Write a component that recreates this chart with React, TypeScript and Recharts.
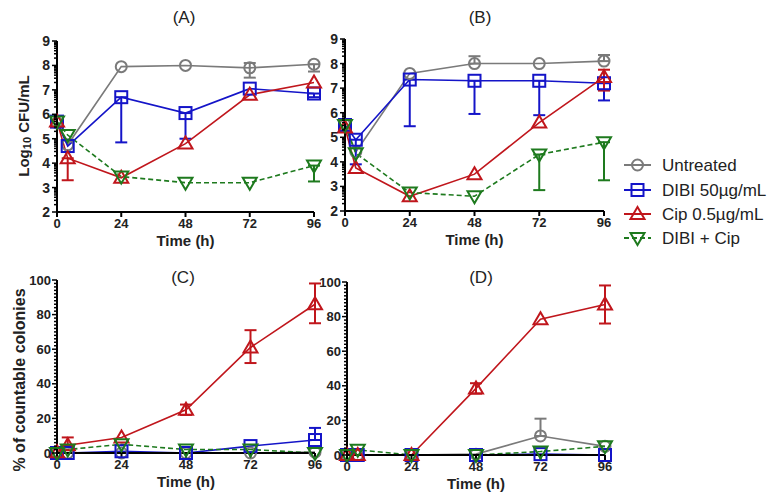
import React from 'react';
import { LineChart, Line, XAxis, YAxis, ErrorBar } from 'recharts';

type Err = [number, number] | null;

const times = [0, 4, 24, 48, 72, 96];
const timeTicks = [0, 24, 48, 72, 96];

// (A) log10 CFU/mL
const aUntreated = [5.65, 4.75, 7.95, 8.0, 7.9, 8.05];
const aUntreatedErr: Err[] = [null, null, null, null, [0.4, 0.2], [0.3, 0]];
const aDibi = [5.7, 4.7, 6.7, 6.05, 7.05, 6.85];
const aDibiErr: Err[] = [null, null, [1.85, 0], [1.05, 0], null, [0.15, 0]];
const aCip = [5.7, 4.2, 3.4, 4.8, 6.8, 7.3];
const aCipErr: Err[] = [null, [0.9, 0], null, null, null, null];
const aCombo = [5.7, 5.15, 3.45, 3.2, 3.2, 3.9];
const aComboErr: Err[] = [null, null, null, null, null, [0.65, 0]];

// (B) log10 CFU/mL
const bUntreated = [5.5, 4.4, 7.6, 8.0, 8.0, 8.1];
const bUntreatedErr: Err[] = [null, null, null, [0, 0.3], null, [0, 0.25]];
const bDibi = [5.5, 4.9, 7.35, 7.3, 7.3, 7.2];
const bDibiErr: Err[] = [null, [1.0, 0], [1.9, 0], [1.35, 0], [1.4, 0], [0.7, 0]];
const bCip = [5.4, 3.75, 2.6, 3.5, 5.6, 7.45];
const bCipErr: Err[] = [null, null, null, null, null, [0.55, 0.3]];
const bCombo = [5.5, 4.35, 2.75, 2.6, 4.3, 4.8];
const bComboErr: Err[] = [null, null, null, null, [1.45, 0], [1.55, 0]];

// (C) % of countable colonies
const cUntreated = [0, 0, 0, 0, 0, 0.5];
const cUntreatedErr: Err[] = [null, null, null, null, null, null];
const cDibi = [0, 0, 1, 0, 4, 7.5];
const cDibiErr: Err[] = [null, null, null, null, null, [0, 7]];
const cCip = [0.5, 4.5, 9, 25, 61, 86];
const cCipErr: Err[] = [null, [0, 4.5], null, [3, 3], [9, 10], [11, 12]];
const cCombo = [0, 2, 5, 2, 2, 0];
const cComboErr: Err[] = [null, null, null, null, null, null];

// (D) % of countable colonies
const dUntreated = [0, 0, 0, 0.5, 11, 5];
const dUntreatedErr: Err[] = [null, null, null, null, [0, 10], null];
const dDibi = [0, 0, 0, 0, 0.5, 0];
const dDibiErr: Err[] = [null, null, null, null, null, null];
const dCip = [0, 0, 0, 38.5, 78.5, 87];
const dCipErr: Err[] = [null, null, null, [3, 3], null, [11, 11]];
const dCombo = [0, 3, 0, 0, 2, 5];
const dComboErr: Err[] = [null, null, null, null, null, null];

const seriesNames = ['Untreated', 'DIBI 50\u00b5g/mL', 'Cip 0.5\u00b5g/mL', 'DIBI + Cip'];

const series = [
  { key: 'u', color: '#7a7a7a', shape: 'circle', dash: undefined },
  { key: 'd', color: '#1414c8', shape: 'square', dash: undefined },
  { key: 'c', color: '#c0161c', shape: 'up', dash: undefined },
  { key: 'x', color: '#1e7a1e', shape: 'down', dash: '5 3' },
];

const logTicks: number[] = [];
for (let n = 2; n < 9; n++) for (let k = 1; k <= 9; k++) logTicks.push(n + Math.log10(k));
logTicks.push(9);
const pctTicks: number[] = [];
for (let v = 0; v <= 100; v += 2) pctTicks.push(v);

function buildRows(vals: number[][], errs: Err[][]) {
  return times.map((t, i) => {
    const row: any = { t };
    series.forEach((s, j) => {
      row[s.key] = vals[j][i];
      const e = errs[j][i];
      if (e) row[s.key + 'Err'] = e;
    });
    return row;
  });
}

const dataA = buildRows([aUntreated, aDibi, aCip, aCombo], [aUntreatedErr, aDibiErr, aCipErr, aComboErr]);
const dataB = buildRows([bUntreated, bDibi, bCip, bCombo], [bUntreatedErr, bDibiErr, bCipErr, bComboErr]);
const dataC = buildRows([cUntreated, cDibi, cCip, cCombo], [cUntreatedErr, cDibiErr, cCipErr, cComboErr]);
const dataD = buildRows([dUntreated, dDibi, dCip, dCombo], [dUntreatedErr, dDibiErr, dCipErr, dComboErr]);

const FONT = '"Liberation Sans", Arial, sans-serif';

function Marker({ cx, cy, shape, color }: any) {
  if (cx == null || cy == null) return null;
  const p = { fill: 'none', stroke: color, strokeWidth: 2 };
  if (shape === 'circle') return <circle cx={cx} cy={cy} r={5.5} {...p} />;
  if (shape === 'square') return <rect x={cx - 6} y={cy - 6} width={12} height={12} {...p} />;
  if (shape === 'up')
    return <polygon points={`${cx},${cy - 7} ${cx - 7},${cy + 5} ${cx + 7},${cy + 5}`} {...p} />;
  return <polygon points={`${cx},${cy + 7} ${cx - 7},${cy - 5} ${cx + 7},${cy - 5}`} {...p} />;
}

function LogTick({ x, y, payload }: any) {
  const v = payload.value;
  const major = Math.abs(v - Math.round(v)) < 1e-6;
  return (
    <g>
      <line x1={x} x2={x - (major ? 5 : 3)} y1={y} y2={y} stroke="#000" strokeWidth={1.5} />
      {major && (
        <text x={x - 7} y={y} textAnchor="end" dominantBaseline="central" fontSize={14} fontWeight="bold" fill="#222" fontFamily={FONT}>
          {Math.round(v)}
        </text>
      )}
    </g>
  );
}

function PctTick({ x, y, payload }: any) {
  const v = payload.value;
  const major = v % 20 === 0;
  return (
    <g>
      <line x1={x} x2={x - (major ? 5 : 3)} y1={y} y2={y} stroke="#000" strokeWidth={1.5} />
      {major && (
        <text x={x - 6} y={y} textAnchor="end" dominantBaseline="central" fontSize={13} fontWeight="bold" fill="#222" fontFamily={FONT}>
          {v}
        </text>
      )}
    </g>
  );
}

function TimeTitle({ viewBox }: any) {
  if (!viewBox) return null;
  return (
    <text x={viewBox.x + viewBox.width / 2} y={viewBox.y + 28} textAnchor="middle" dominantBaseline="central" fontSize={15} fontWeight="bold" fill="#222" fontFamily={FONT}>
      Time (h)
    </text>
  );
}

function Panel({ data, left, top, margin, xHeight, yDomain, yTicks, tick }: any) {
  return (
    <div style={{ position: 'absolute', left, top }}>
      <LineChart width={330} height={250} data={data} margin={margin}>
        <XAxis
          type="number"
          dataKey="t"
          domain={[0, 96]}
          ticks={timeTicks}
          interval={0}
          height={xHeight}
          tickSize={5}
          axisLine={{ stroke: '#000', strokeWidth: 2 }}
          tickLine={{ stroke: '#000', strokeWidth: 2 }}
          tick={{ fontSize: 13, fontWeight: 'bold', fill: '#222', fontFamily: FONT }}
          label={<TimeTitle />}
        />
        <YAxis
          type="number"
          domain={yDomain}
          ticks={yTicks}
          interval={0}
          width={57}
          tickSize={0}
          tickMargin={0}
          tickLine={false}
          axisLine={{ stroke: '#000', strokeWidth: 2 }}
          tick={tick}
        />
        {series.map((s) => (
          <Line
            key={s.key}
            type="linear"
            dataKey={s.key}
            stroke={s.color}
            strokeWidth={1.6}
            strokeDasharray={s.dash}
            isAnimationActive={false}
            activeDot={false}
            dot={(p: any) => <Marker key={`${s.key}-${p.index}`} cx={p.cx} cy={p.cy} shape={s.shape} color={s.color} />}
          >
            <ErrorBar dataKey={s.key + 'Err'} direction="y" width={6} stroke={s.color} strokeWidth={2} isAnimationActive={false} />
          </Line>
        ))}
      </LineChart>
    </div>
  );
}

export default function App() {
  const legendRows = [165, 190, 214, 238];
  return (
    <div style={{ position: 'absolute', left: 0, top: 0, width: 778, height: 503, background: '#fff', fontFamily: FONT }}>
      <Panel data={dataA} left={0} top={0} margin={{ top: 41, right: 16, bottom: 0, left: 0 }} xHeight={38} yDomain={[2, 9]} yTicks={logTicks} tick={<LogTick />} />
      <Panel data={dataB} left={288} top={0} margin={{ top: 39, right: 14, bottom: 0, left: 0 }} xHeight={39} yDomain={[2, 9]} yTicks={logTicks} tick={<LogTick />} />
      <Panel data={dataC} left={0} top={250} margin={{ top: 30, right: 15, bottom: 0, left: 0 }} xHeight={47} yDomain={[0, 100]} yTicks={pctTicks} tick={<PctTick />} />
      <Panel data={dataD} left={290} top={250} margin={{ top: 32, right: 15, bottom: 0, left: 0 }} xHeight={45} yDomain={[0, 100]} yTicks={pctTicks} tick={<PctTick />} />
      <svg width={778} height={503} style={{ position: 'absolute', left: 0, top: 0, pointerEvents: 'none' }}>
        <g fontFamily={FONT} fill="#222">
          <text x={184} y={17} textAnchor="middle" dominantBaseline="central" fontSize={17}>(A)</text>
          <text x={480} y={17} textAnchor="middle" dominantBaseline="central" fontSize={17}>(B)</text>
          <text x={183} y={277} textAnchor="middle" dominantBaseline="central" fontSize={17}>(C)</text>
          <text x={481} y={277} textAnchor="middle" dominantBaseline="central" fontSize={17}>(D)</text>
          <text x={23} y={126} transform="rotate(-90, 23, 126)" textAnchor="middle" dominantBaseline="central" fontSize={15} fontWeight="bold">
            Log<tspan dy={4} fontSize={11}>10</tspan>
            <tspan dy={-4}> CFU/mL</tspan>
          </text>
          <text x={19} y={380} transform="rotate(-90, 19, 380)" textAnchor="middle" dominantBaseline="central" fontSize={16} fontWeight="bold">
            % of countable colonies
          </text>
        </g>
        {series.map((s, i) => (
          <g key={s.key}>
            <line x1={624} x2={651} y1={legendRows[i]} y2={legendRows[i]} stroke={s.color} strokeWidth={2} strokeDasharray={s.dash} />
            <Marker cx={637.5} cy={legendRows[i]} shape={s.shape} color={s.color} />
            <text x={662} y={legendRows[i]} dominantBaseline="central" fontSize={17} fill="#222" fontFamily={FONT}>
              {seriesNames[i]}
            </text>
          </g>
        ))}
      </svg>
    </div>
  );
}
